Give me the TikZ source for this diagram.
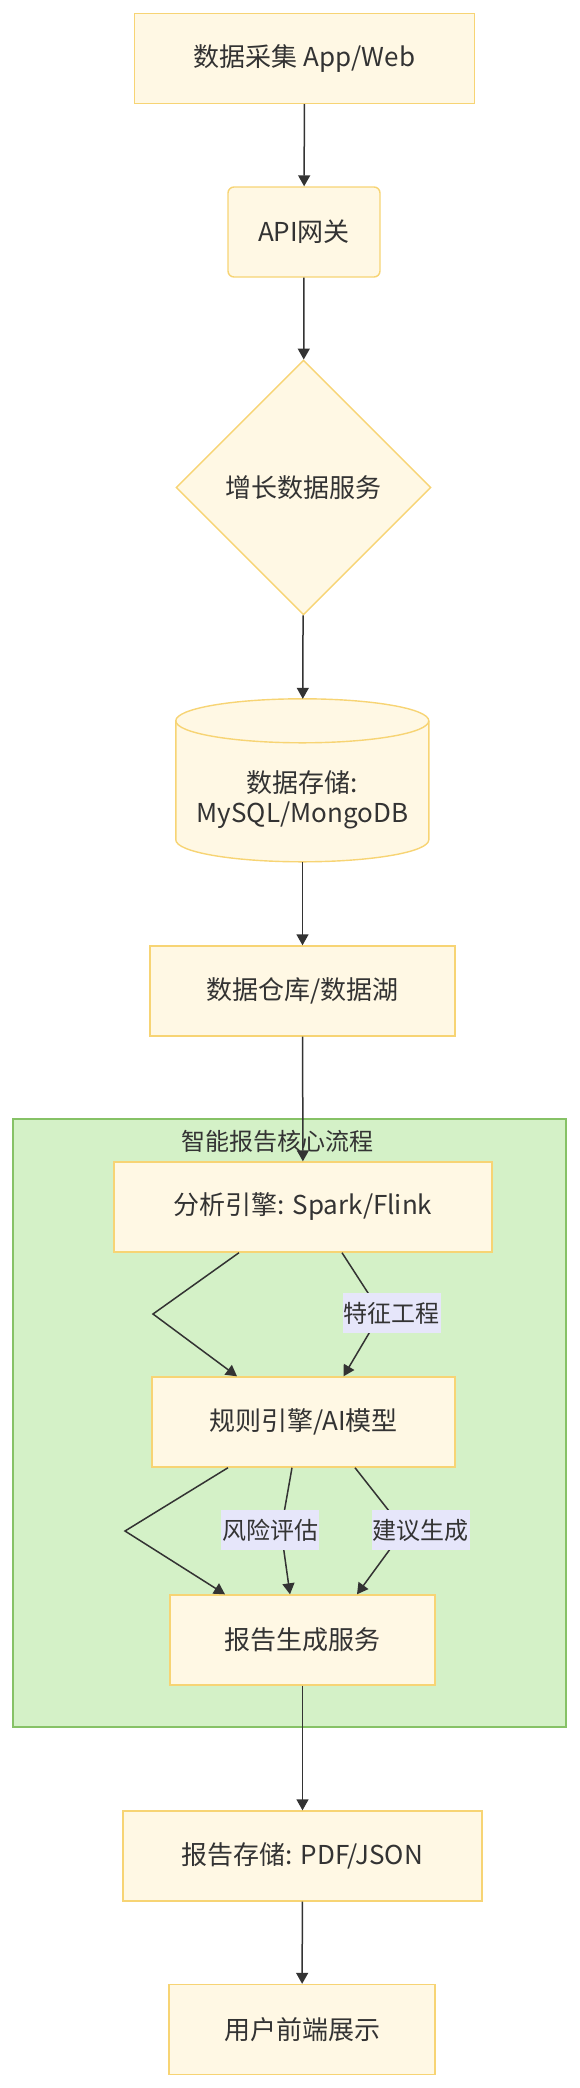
\documentclass[tikz,border=0pt]{standalone}
\usepackage{fontspec}
\setmainfont{Noto Sans CJK SC}
\usetikzlibrary{arrows.meta,shapes.geometric}
\definecolor{nodefill}{HTML}{FFF8E4}
\definecolor{nodeline}{HTML}{F7D474}
\definecolor{corefill}{HTML}{D4F1C7}
\definecolor{coreline}{HTML}{86C266}
\definecolor{labelfill}{HTML}{E6E6FA}
\definecolor{ink}{HTML}{333333}
\begin{document}
\begin{tikzpicture}[x=1pt,y=-1pt,
    box/.style={draw=nodeline, fill=nodefill, line width=1.4pt, text=ink,
      font=\fontsize{26}{31}\selectfont, minimum height=90pt, inner sep=0pt},
    flow/.style={draw=ink, line width=1.5pt, -{Triangle[length=11pt,width=12pt]}},
    edgelabel/.style={fill=labelfill, text=ink, font=\fontsize{24}{28}\selectfont,
      minimum height=40pt, inner xsep=1pt, inner ysep=0pt}]
  \useasboundingbox (0,0) rectangle (579,2088);
  \node[box, minimum width=340pt] (collect) at (304.5,58.5) {数据采集 App/Web};
  \node[box, rounded corners=6pt, minimum width=152pt] (api) at (304,232) {API网关};
  \node[box, diamond, minimum width=255pt, minimum height=255pt] (growth) at (303.5,487.5) {增长数据服务};
  \node[minimum width=253pt, minimum height=163pt, inner sep=0pt] (store) at (302.5,780.5) {};
  \draw[draw=nodeline, fill=nodefill, line width=1.4pt]
    (store.north west) ++(0,22) -- ++(0,119)
    arc[start angle=180, end angle=360, x radius=126.5pt, y radius=22pt] -- ++(0,-119)
    arc[start angle=0, end angle=180, x radius=126.5pt, y radius=22pt] -- cycle;
  \draw[draw=nodeline, line width=1.4pt] (store.north west) ++(0,22)
    arc[start angle=180, end angle=360, x radius=126.5pt, y radius=22pt];
  \node[text=ink, font=\fontsize{26}{30}\selectfont, align=center] (storetext) at (302.5,800) {数据存储:\\MySQL/MongoDB};
  \node[box, minimum width=305pt] (lake) at (302.5,991) {数据仓库/数据湖};
  \node[draw=coreline, fill=corefill, line width=1.3pt, minimum width=553pt, minimum height=608pt] (core) at (289.5,1423) {};
  \node[text=ink, font=\fontsize{24}{28}\selectfont] (coretitle) at (277.5,1141) {智能报告核心流程};
  \node[box, minimum width=378pt] (analysis) at (303,1207) {分析引擎: Spark/Flink};
  \node[box, minimum width=303pt] (rule) at (303.5,1422) {规则引擎/AI模型};
  \node[box, minimum width=265pt] (report) at (302.5,1640) {报告生成服务};
  \node[box, minimum width=359pt] (archive) at (302.5,1856) {报告存储: PDF/JSON};
  \node[box, minimum width=266pt] (frontend) at (302,2029.5) {用户前端展示};
  \coordinate (bendA) at (153,1314);
  \coordinate (featbend) at (381,1313);
  \coordinate (bendB) at (125,1531);
  \coordinate (riskbend) at (281,1530);
  \coordinate (advbend) at (404,1530);
  \draw[flow] (collect) -- (api);
  \draw[flow] (api) -- (growth);
  \draw[flow] (growth) -- (store);
  \draw[flow] (store) -- (lake);
  \draw[flow] (lake) -- (analysis);
  \draw[flow] ([xshift=-64pt]analysis.south) -- (bendA) -- ([xshift=-66.5pt]rule.north);
  \draw[flow] ([xshift=39pt]analysis.south) -- (featbend) -- ([xshift=40pt]rule.north);
  \draw[flow] ([xshift=-75.5pt]rule.south) -- (bendB) -- ([xshift=-77.5pt]report.north);
  \draw[flow] ([xshift=-11.5pt]rule.south) -- (riskbend) -- ([xshift=-12.5pt]report.north);
  \draw[flow] ([xshift=51.5pt]rule.south) -- (advbend) -- ([xshift=54.5pt]report.north);
  \draw[flow] (report) -- (archive);
  \draw[flow] (archive) -- (frontend);
  \node[edgelabel] (featlabel) at (391.5,1313) {特征工程};
  \node[edgelabel] (risklabel) at (270,1530) {风险评估};
  \node[edgelabel] (advlabel) at (420.5,1530) {建议生成};
\end{tikzpicture}
\end{document}
